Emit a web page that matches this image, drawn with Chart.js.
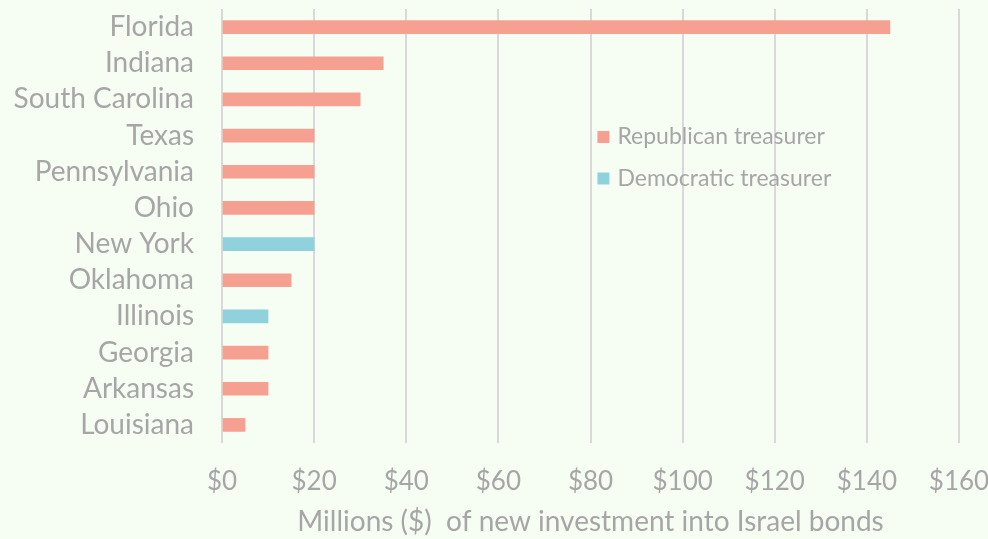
<!DOCTYPE html>
<html>
<head>
<meta charset="utf-8">
<script src="https://cdn.jsdelivr.net/npm/chart.js@4"></script>
<style>
html,body{margin:0;padding:0;background:#f6fef4;}
#wrap{width:988px;height:539px;position:relative;}
</style>
</head>
<body>
<div id="wrap"><canvas id="c" width="988" height="539"></canvas></div>
<script>
const states = ["Florida","Indiana","South Carolina","Texas","Pennsylvania","Ohio","New York","Oklahoma","Illinois","Georgia","Arkansas","Louisiana"];
const republican = [145,35,30,20,20,20,null,15,null,10,10,5];
const democratic = [null,null,null,null,null,null,20,null,10,null,null,null];
const xTicks = [0,20,40,60,80,100,120,140,160];
const seriesNames = ["Republican treasurer","Democratic treasurer"];
const axisTitle = "Millions ($)  of new investment into Israel bonds";

const GRAY = "#a6a6a6";
const FONT = "Lato, 'Open Sans', sans-serif";

const legendPlugin = {
  id: 'insideLegend',
  afterDraw(chart) {
    const ctx = chart.ctx;
    const x0 = chart.scales.x.getPixelForValue(81.5);
    const ys = [137, 178.5];
    ctx.save();
    ctx.font = "23px " + FONT;
    ctx.textBaseline = "middle";
    chart.data.datasets.forEach((ds, i) => {
      ctx.fillStyle = ds.backgroundColor;
      ctx.fillRect(x0, ys[i] - 6, 12, 12);
      ctx.fillStyle = GRAY;
      ctx.fillText(ds.label, x0 + 20, ys[i]);
    });
    ctx.restore();
  }
};

new Chart(document.getElementById('c'), {
  type: 'bar',
  data: {
    labels: states,
    datasets: [
      {label: seriesNames[0], data: republican, backgroundColor: "#f5a091", barThickness: 13},
      {label: seriesNames[1], data: democratic, backgroundColor: "#8fd1dc", barThickness: 13}
    ]
  },
  options: {
    indexAxis: 'y',
    responsive: false,
    animation: false,
    layout: {padding: {top: 9, right: 29, left: 0, bottom: 0}},
    plugins: {legend: {display: false}, tooltip: {enabled: false}},
    scales: {
      x: {
        min: 0, max: 160,
        afterBuildTicks(axis) { axis.ticks = xTicks.map(v => ({value: v})); },
        afterFit(axis) { axis.height = 96; axis.paddingLeft = 0; axis.paddingRight = 0; },
        grid: {color: "#d9d9d9", lineWidth: 2, drawTicks: false},
        border: {display: false},
        ticks: {color: GRAY, font: {family: FONT, size: 26}, padding: 23, autoSkip: false, maxRotation: 0, callback: v => "$" + v},
        title: {display: true, text: axisTitle, color: GRAY, font: {family: FONT, size: 28}, padding: {top: 4, bottom: 0}}
      },
      y: {
        stacked: true,
        afterFit(axis) { axis.width = 222; axis.paddingTop = 0; axis.paddingBottom = 0; },
        grid: {display: false, drawTicks: false},
        border: {display: false},
        ticks: {color: GRAY, font: {family: FONT, size: 28}, padding: 28, autoSkip: false}
      }
    }
  },
  plugins: [legendPlugin]
});
</script>
</body>
</html>
